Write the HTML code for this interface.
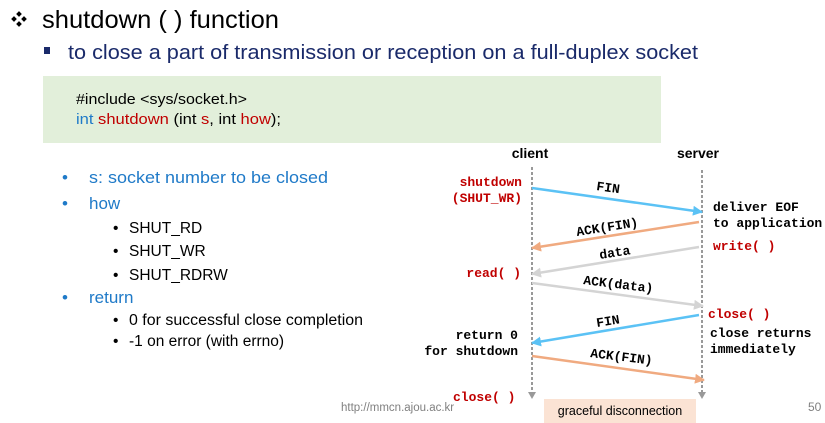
<!DOCTYPE html>
<html><head><meta charset="utf-8"><style>
body{margin:0;background:#fff;width:825px;height:423px;overflow:hidden}
svg{display:block}
.s{font-family:"Liberation Sans",sans-serif}
.m{font-family:"Liberation Mono",monospace;font-weight:bold;font-size:13px}
</style></head><body>
<svg width="825" height="423" viewBox="0 0 825 423" xmlns="http://www.w3.org/2000/svg">
<defs>
<marker id="ab" viewBox="0 0 10 10" refX="9" refY="5" markerWidth="4" markerHeight="4" orient="auto"><path d="M0,0L10,5L0,10z" fill="#5bc2f5"/></marker>
<marker id="ao" viewBox="0 0 10 10" refX="9" refY="5" markerWidth="4" markerHeight="4" orient="auto"><path d="M0,0L10,5L0,10z" fill="#f0aa80"/></marker>
<marker id="ag" viewBox="0 0 10 10" refX="9" refY="5" markerWidth="4" markerHeight="4" orient="auto"><path d="M0,0L10,5L0,10z" fill="#d4d4d4"/></marker>
</defs>
<g fill="#000"><rect x="17" y="12" width="4" height="4" transform="rotate(45 19 14)"/><rect x="17" y="22" width="4" height="4" transform="rotate(45 19 24)"/><rect x="12" y="17" width="4" height="4" transform="rotate(45 14 19)"/><rect x="22" y="17" width="4" height="4" transform="rotate(45 24 19)"/></g>
<text class="s" x="42" y="28" font-size="25" fill="#000" textLength="237" lengthAdjust="spacingAndGlyphs">shutdown ( ) function</text>
<rect x="44" y="47" width="6" height="7" fill="#1a2a6a"/>
<text class="s" x="68" y="59" font-size="20" fill="#1a2a6a" textLength="630" lengthAdjust="spacingAndGlyphs">to close a part of transmission or reception on a full-duplex socket</text>
<rect x="43" y="76" width="618" height="67" fill="#e2efda"/>
<text class="s" x="76" y="104" font-size="14.5" fill="#000" textLength="171" lengthAdjust="spacingAndGlyphs">#include &lt;sys/socket.h&gt;</text>
<text class="s" x="76" y="124" font-size="14.5" textLength="205" lengthAdjust="spacingAndGlyphs"><tspan fill="#1f7ac8">int</tspan> <tspan fill="#c00000">shutdown</tspan> <tspan fill="#000">(int </tspan><tspan fill="#c00000">s</tspan><tspan fill="#000">, int </tspan><tspan fill="#c00000">how</tspan><tspan fill="#000">);</tspan></text>
<g class="s" font-size="17" fill="#1f7ac8">
<text x="62" y="183">•</text><text x="89" y="183" textLength="239" lengthAdjust="spacingAndGlyphs">s:  socket number to be closed</text>
<text x="62" y="209">•</text><text x="89" y="209">how</text>
<text x="62" y="303">•</text><text x="89" y="303">return</text>
</g>
<g class="s" font-size="15.5" fill="#000">
<text x="113" y="233">•</text><text x="129" y="233">SHUT_RD</text>
<text x="113" y="256">•</text><text x="129" y="256">SHUT_WR</text>
<text x="113" y="280">•</text><text x="129" y="280">SHUT_RDRW</text>
<text x="113" y="325">•</text><text x="129" y="325" textLength="234" lengthAdjust="spacingAndGlyphs">0 for successful close completion</text>
<text x="113" y="346">•</text><text x="129" y="346">-1 on error (with errno)</text>
</g>
<text class="s" x="530" y="158" font-size="14" font-weight="bold" text-anchor="middle">client</text>
<text class="s" x="698" y="158" font-size="14" font-weight="bold" text-anchor="middle">server</text>
<line x1="532" y1="167" x2="532" y2="392" stroke="#999" stroke-width="2" stroke-dasharray="3,2"/>
<line x1="702" y1="170" x2="702" y2="392" stroke="#999" stroke-width="2" stroke-dasharray="3,2"/>
<path d="M528,392h8l-4,7z" fill="#999"/><path d="M698,392h8l-4,7z" fill="#999"/>
<line x1="532" y1="188" x2="702" y2="212" stroke="#5bc2f5" stroke-width="2.5" marker-end="url(#ab)"/>
<line x1="699" y1="222" x2="532" y2="248" stroke="#f0aa80" stroke-width="2.5" marker-end="url(#ao)"/>
<line x1="699" y1="247" x2="532" y2="274" stroke="#d4d4d4" stroke-width="2.5" marker-end="url(#ag)"/>
<line x1="532" y1="283" x2="703" y2="306" stroke="#d4d4d4" stroke-width="2.5" marker-end="url(#ag)"/>
<line x1="699" y1="315" x2="532" y2="343" stroke="#5bc2f5" stroke-width="2.5" marker-end="url(#ab)"/>
<line x1="532" y1="356" x2="704" y2="380" stroke="#f0aa80" stroke-width="2.5" marker-end="url(#ao)"/>
<g class="m" fill="#000">
<text x="596" y="190" transform="rotate(8 596 190)">FIN</text>
<text x="577" y="236" transform="rotate(-9 577 236)">ACK(FIN)</text>
<text x="600" y="259" transform="rotate(-9 600 259)">data</text>
<text x="583" y="284" transform="rotate(7 583 284)">ACK(data)</text>
<text x="597" y="327" transform="rotate(-9 597 327)">FIN</text>
<text x="590" y="357" transform="rotate(7 590 357)">ACK(FIN)</text>
<text x="713" y="211">deliver EOF</text>
<text x="713" y="227">to application</text>
<text x="710" y="337">close returns</text>
<text x="710" y="353">immediately</text>
<text x="518" y="339" text-anchor="end">return 0</text>
<text x="518" y="355" text-anchor="end">for shutdown</text>
</g>
<g class="m" fill="#c00000">
<text x="522" y="186" text-anchor="end">shutdown</text>
<text x="522" y="202" text-anchor="end">(SHUT_WR)</text>
<text x="713" y="250">write( )</text>
<text x="521" y="277" text-anchor="end">read( )</text>
<text x="708" y="318">close( )</text>
<text x="453" y="401">close( )</text>
</g>
<text class="s" x="341" y="411" font-size="11.5" fill="#808080">http://mmcn.ajou.ac.kr</text>
<rect x="544" y="399" width="152" height="24" fill="#fbe3d4"/>
<text class="s" x="620" y="415" font-size="12.5" fill="#000" text-anchor="middle">graceful disconnection</text>
<text class="s" x="808" y="411" font-size="12" fill="#808080">50</text>
</svg>
</body></html>
